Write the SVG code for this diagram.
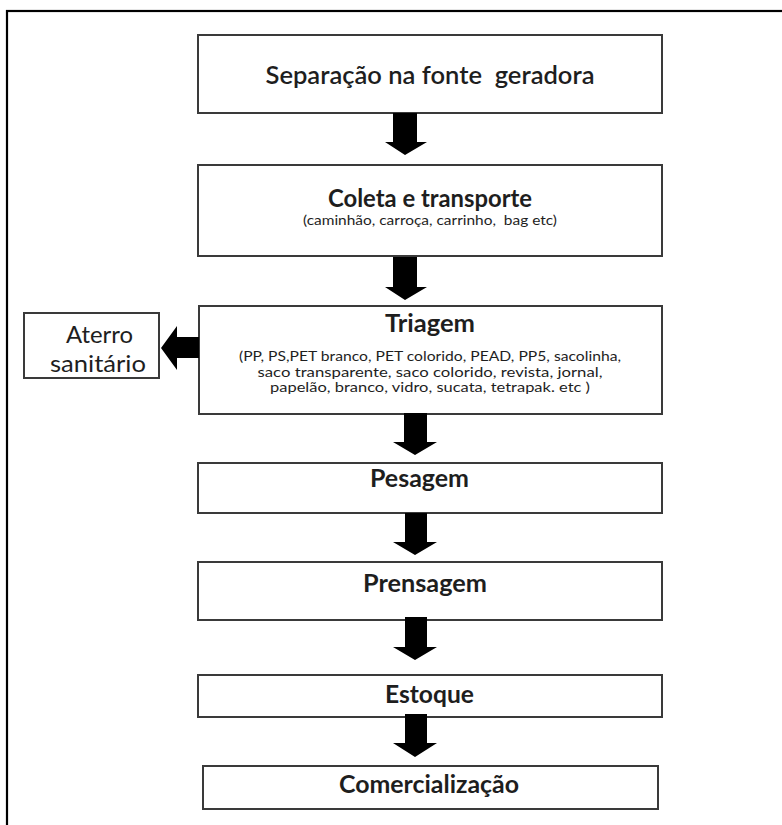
<svg xmlns="http://www.w3.org/2000/svg" width="782" height="825" viewBox="0 0 782 825">
<defs>
<style>
.box{fill:#fff;stroke:#3a3a3a;stroke-width:2}
.t{font-family:Lato,"Open Sans","Liberation Sans",sans-serif;fill:#1e1e1e;text-anchor:middle;white-space:pre}
.b{font-weight:bold;font-size:24px}
.r{font-size:24px}
.s{font-size:14px}
.arr{fill:#000}
</style>
</defs>
<rect x="7" y="11" width="800" height="900" fill="none" stroke="#000" stroke-width="2.2"/>
<g id="n1">
<rect class="box" x="198" y="35" width="464" height="78"/>
<text class="t b" x="430" y="84" textLength="329" lengthAdjust="spacingAndGlyphs" style="font-weight:600">Separação na fonte  geradora</text>
</g>
<g id="n2">
<rect class="box" x="198" y="165" width="464" height="91"/>
<text class="t b" x="430" y="207" textLength="204" lengthAdjust="spacingAndGlyphs">Coleta e transporte</text>
<text class="t s" x="430" y="225" textLength="254" lengthAdjust="spacingAndGlyphs">(caminhão, carroça, carrinho,  bag etc)</text>
</g>
<g id="n3">
<rect class="box" x="199" y="306" width="463" height="108"/>
<text class="t b" x="430" y="332" textLength="90" lengthAdjust="spacingAndGlyphs">Triagem</text>
<text class="t s" x="430" y="361" textLength="382" lengthAdjust="spacingAndGlyphs">(PP, PS,PET branco, PET colorido, PEAD, PP5, sacolinha,</text>
<text class="t s" x="430" y="376.5" textLength="345" lengthAdjust="spacingAndGlyphs">saco transparente, saco colorido, revista, jornal,</text>
<text class="t s" x="430" y="392" textLength="320" lengthAdjust="spacingAndGlyphs">papelão, branco, vidro, sucata, tetrapak. etc )</text>
</g>
<g id="n_aterro">
<rect class="box" x="24" y="313" width="135" height="65"/>
<text class="t r" x="99.5" y="343" textLength="67" lengthAdjust="spacingAndGlyphs">Aterro</text>
<text class="t r" x="98" y="372" textLength="96" lengthAdjust="spacingAndGlyphs">sanitário</text>
</g>
<g id="n4">
<rect class="box" x="198" y="463" width="464" height="50"/>
<text class="t b" x="419.5" y="487" textLength="99" lengthAdjust="spacingAndGlyphs">Pesagem</text>
</g>
<g id="n5">
<rect class="box" x="198" y="562" width="464" height="58"/>
<text class="t b" x="425" y="592" textLength="124" lengthAdjust="spacingAndGlyphs">Prensagem</text>
</g>
<g id="n6">
<rect class="box" x="198" y="675" width="464" height="42"/>
<text class="t b" x="429.5" y="703" textLength="89" lengthAdjust="spacingAndGlyphs">Estoque</text>
</g>
<g id="n7">
<rect class="box" x="203" y="766" width="455" height="43"/>
<text class="t b" x="429" y="793" textLength="180" lengthAdjust="spacingAndGlyphs">Comercialização</text>
</g>
<g id="connectors">
<polygon class="arr" points="393,113 417,113 417,142 427,142 405,155 385,142 393,142"/>
<polygon class="arr" points="393,257 417,257 417,287 427,287 405,300 385,287 393,287"/>
<polygon class="arr" points="404,413 427,413 427,442 437,442 415,455 393,442 404,442"/>
<polygon class="arr" points="405,513 427,513 427,542 437,542 415,555 393,542 405,542"/>
<polygon class="arr" points="405,617 427,617 427,647 437,647 415,660 393,647 405,647"/>
<polygon class="arr" points="405,714 427,714 427,743 437,743 415,757 393,743 405,743"/>
<polygon class="arr" points="199,337 177,337 177,326 161,348 177,370 177,358 199,358"/>
</g>
</svg>
